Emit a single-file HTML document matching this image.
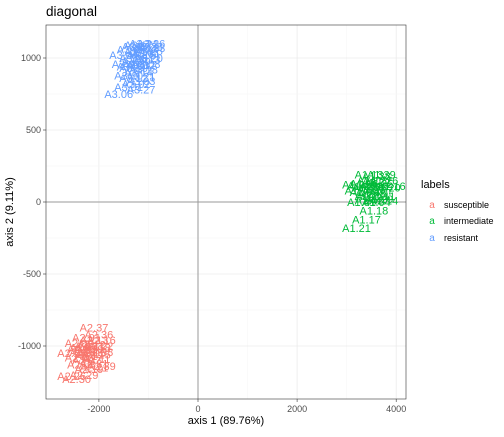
<!DOCTYPE html>
<html><head><meta charset="utf-8"><style>
body{margin:0;background:#fff;font-family:"Liberation Sans",sans-serif}
svg text{font-family:"Liberation Sans",sans-serif}
</style></head><body>
<svg id="chart" width="504" height="432" viewBox="0 0 504 432" xmlns="http://www.w3.org/2000/svg">
<rect width="504" height="432" fill="#fff"/>
<text x="46" y="16" font-size="13.5" fill="#000">diagonal</text>
<g id="grid"></g>
<g id="marks"></g>
<rect x="46" y="25" width="360" height="374" fill="none" stroke="#333" stroke-width="0.6"/>
<g id="axes"></g>
<text x="226" y="424" font-size="11" text-anchor="middle">axis 1 (89.76%)</text>
<text transform="translate(13,212) rotate(-90)" font-size="11" text-anchor="middle">axis 2 (9.11%)</text>
<g>
<text x="421" y="188" font-size="11">labels</text>
<text x="432" y="208" font-size="10" fill="#F8766D" text-anchor="middle">a</text>
<text x="444" y="208" font-size="9">susceptible</text>
<text x="432" y="224" font-size="10" fill="#00BA38" text-anchor="middle">a</text>
<text x="444" y="224" font-size="9">intermediate</text>
<text x="432" y="241" font-size="10" fill="#619CFF" text-anchor="middle">a</text>
<text x="444" y="241" font-size="9">resistant</text>
</g>
</svg>
<script>
const xTicks=[-2000,0,2000,4000];
const yTicks=[-1000,-500,0,500,1000];
const blueX=[-1600,-1150,-1250,-1150,-1400,-1300,-1200,-1100,-1400,-1250,-1050,-1300,-1150,-1000,-1250,-1100,-950,-1350,-1500,-1050,-1200,-1300,-1000,-1150,-1450,-1200,-1100,-1000,-1350,-1250,-1050,-1150,-950];
const blueY=[750,780,820,840,800,860,900,920,880,950,960,1000,1020,1050,1080,1100,1100,1060,1020,990,1040,930,1000,870,960,1090,1060,1080,940,980,1030,950,1070];
const blueL=["A3.06","A3.27","A3.02","A3.03","A3.01","A3.12","A3.14","A3.18","A3.10","A3.11","A3.08","A3.05","A3.15","A3.25","A3.22","A3.24","A3.26","A3.09","A3.04","A3.13","A3.16","A3.19","A3.20","A3.21","A3.07","A3.17","A3.23","A3.28","A3.29","A3.30","A3.31","A3.32","A3.33"];
const greenX=[3200,3400,3550,3300,3450,3600,3750,3200,3350,3500,3600,3700,3450,3800,3650,3500,3350,3250,3700,3550,3900,3400,3600,3450,3550,3650,3750,3300,3500,3650];
const greenY=[-180,-120,-60,0,10,0,10,120,130,150,180,190,190,100,80,60,70,80,40,110,110,100,140,40,30,130,150,110,90,20];
const greenL=["A1.21","A1.17","A1.18","A1.01","A1.02","A1.04","A1.14","A1.05","A1.06","A1.12","A1.38","A1.39","A1.13","A1.20","A1.07","A1.08","A1.09","A1.10","A1.11","A1.15","A1.16","A1.19","A1.22","A1.23","A1.24","A1.25","A1.26","A1.27","A1.28","A1.29"];
const redX=[-2100,-2000,-2250,-2100,-1950,-2400,-2200,-2050,-2550,-2300,-2150,-2000,-2400,-2250,-2100,-1950,-2350,-2200,-2300,-2550,-2450,-2200,-2050,-2150,-2300,-2050,-2200,-2350,-2100,-2000];
const redY=[-870,-920,-940,-960,-960,-980,-1000,-1010,-1050,-1040,-1050,-1040,-1080,-1100,-1120,-1140,-1130,-1160,-1200,-1210,-1230,-1020,-1090,-990,-1010,-1060,-1070,-1020,-1150,-1000];
const redL=["A2.37","A2.36","A2.01","A2.13","A2.16","A2.02","A2.03","A2.18","A2.28","A2.04","A2.05","A2.38","A2.06","A2.07","A2.31","A2.39","A2.08","A2.19","A2.29","A2.26","A2.30","A2.10","A2.11","A2.12","A2.14","A2.15","A2.17","A2.20","A2.21","A2.22"];
const sx=v=>198+v*0.04955;
const sy=v=>202-v*0.1440;
const NS="http://www.w3.org/2000/svg";
const grid=document.getElementById('grid'),axes=document.getElementById('axes'),marks=document.getElementById('marks');
function mk(tag,attrs,parent){const e=document.createElementNS(NS,tag);for(const k in attrs)e.setAttribute(k,attrs[k]);parent.appendChild(e);return e;}
for(let i=0;i<xTicks.length;i++){
  const x=sx(xTicks[i]);
  const l=mk('line',{x1:x,x2:x,y1:25,y2:399,stroke:'#EBEBEB','stroke-width':0.8},grid);
  
  
  if(i<xTicks.length-1){const m=sx((xTicks[i]+xTicks[i+1])/2);const ml=mk('line',{x1:m,x2:m,y1:25,y2:399,stroke:'#F5F5F5','stroke-width':0.5},grid);
  
  }
  mk('line',{x1:x,x2:x,y1:399,y2:402,stroke:'#333','stroke-width':0.6},axes);
  const t=mk('text',{x:x,y:412,'font-size':9,'text-anchor':'middle',fill:'#4D4D4D'},axes);t.textContent=xTicks[i];
  
  
}
for(let i=0;i<yTicks.length;i++){
  const y=sy(yTicks[i]);
  const l=mk('line',{x1:46,x2:406,y1:y,y2:y,stroke:'#EBEBEB','stroke-width':0.8},grid);
  
  
  if(i<yTicks.length-1){const m=sy((yTicks[i]+yTicks[i+1])/2);const ml=mk('line',{x1:46,x2:406,y1:m,y2:m,stroke:'#F5F5F5','stroke-width':0.5},grid);
  
  }
  mk('line',{x1:43,x2:46,y1:y,y2:y,stroke:'#333','stroke-width':0.6},axes);
  const t=mk('text',{x:41,y:y+3,'font-size':9,'text-anchor':'end',fill:'#4D4D4D'},axes);t.textContent=yTicks[i];
  
  
}
const h=mk('line',{x1:46,x2:406,y1:sy(0),y2:sy(0),stroke:'#9a9a9a','stroke-width':1},grid);


const v=mk('line',{x1:sx(0),x2:sx(0),y1:25,y2:399,stroke:'#9a9a9a','stroke-width':1},grid);


function series(xs,ys,ls,color,name){
  for(let i=0;i<xs.length;i++){
    const t=mk('text',{x:sx(xs[i]),y:sy(ys[i])+4,'font-size':11,'text-anchor':'middle',fill:color},marks);
    t.textContent=ls[i];
    
    
  }
}
series(redX,redY,redL,'#F8766D','susceptible');
series(greenX,greenY,greenL,'#00BA38','intermediate');
series(blueX,blueY,blueL,'#619CFF','resistant');
</script>
</body></html>
